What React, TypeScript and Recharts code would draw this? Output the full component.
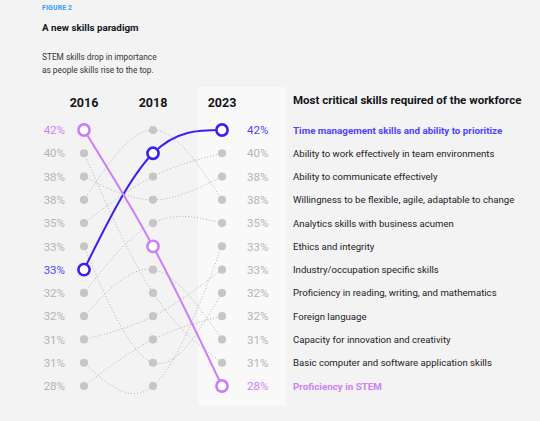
import React from 'react';
import { LineChart, Line, XAxis, YAxis } from 'recharts';

// Column labels
const years = ['2016', '2018', '2023'];
// Percent shown for each rank position (same in every column)
const rankPercents = ['42%', '40%', '38%', '38%', '35%', '33%', '33%', '32%', '32%', '31%', '31%', '28%'];
// Skills in 2023 order
const skills = [
  'Time management skills and ability to prioritize',
  'Ability to work effectively in team environments',
  'Ability to communicate effectively',
  'Willingness to be flexible, agile, adaptable to change',
  'Analytics skills with business acumen',
  'Ethics and integrity',
  'Industry/occupation specific skills',
  'Proficiency in reading, writing, and mathematics',
  'Foreign language',
  'Capacity for innovation and creativity',
  'Basic computer and software application skills',
  'Proficiency in STEM',
];
const rank2016 = [7, 5, 3, 4, 8, 11, 10, 6, 12, 9, 2, 1];
const rank2018 = [2, 3, 4, 1, 5, 12, 9, 11, 10, 7, 8, 6];
const rank2023 = [1, 2, 3, 4, 5, 6, 7, 8, 9, 10, 11, 12];
const highlight: Record<number, string> = { 0: '#3b1ff2', 11: '#cc7ef8' };
const highlightText: Record<number, string> = { 0: '#4b44ff', 11: '#d07ff8' };

const rankColumns = [rank2016, rank2018, rank2023];
const data = years.map((y, i) => {
  const row: Record<string, number | string> = { x: i, year: y };
  skills.forEach((_, s) => {
    row['s' + s] = rankColumns[i][s];
  });
  return row;
});

const ranks = rankPercents.map((_, i) => i + 1);
const FONT = 'Roboto, "Noto Sans", sans-serif';
const GRAY_TEXT = '#b4b4b4';

const colorFor = (col: number[], rank: number) => {
  const s = col.indexOf(rank);
  return highlightText[s] || GRAY_TEXT;
};

const LeftTick = (props: any) => {
  const { x, y, payload } = props;
  const r = payload.value as number;
  return (
    <text x={x} y={y} dy="0.36em" textAnchor="end" fontFamily={FONT} fontSize={11.5} fill={colorFor(rank2016, r)}>
      {rankPercents[r - 1]}
    </text>
  );
};

const RightTick = (props: any) => {
  const { x, y, payload } = props;
  const r = payload.value as number;
  const s = rank2023.indexOf(r);
  const hl = highlightText[s];
  return (
    <g>
      <text x={x} y={y} dy="0.36em" textAnchor="start" fontFamily={FONT} fontSize={11.5} fill={colorFor(rank2023, r)}>
        {rankPercents[r - 1]}
      </text>
      <text
        x={x + 46}
        y={y}
        dy="0.36em"
        textAnchor="start"
        fontFamily={FONT}
        fontSize={hl ? 9.8 : 9.6}
        fontWeight={hl ? 700 : 400}
        fill={hl || '#222226'}
      >
        {skills[s]}
      </text>
    </g>
  );
};

const YearTick = (props: any) => {
  const { x, y, payload } = props;
  return (
    <text x={x} y={y} textAnchor="middle" fontFamily={FONT} fontSize={12.5} fontWeight={700} fill="#141414">
      {years[payload.value]}
    </text>
  );
};

export default function App() {
  const order = skills.map((_, i) => i).filter((i) => !(i in highlight)).concat([0, 11]);
  return (
    <div
      style={{
        position: 'absolute',
        left: 0,
        top: 0,
        width: 540,
        height: 421,
        background: '#f3f3f3',
        overflow: 'hidden',
        fontFamily: FONT,
      }}
    >
      <div style={{ position: 'absolute', left: 198, top: 87, width: 88, height: 319, background: '#f9f9f9' }} />
      <div style={{ position: 'absolute', left: 42, top: 4, fontSize: 6.8, fontWeight: 700, color: '#2f9ef5', letterSpacing: 0.2 }}>
        FIGURE 2
      </div>
      <div style={{ position: 'absolute', left: 42, top: 22, fontSize: 9.8, fontWeight: 700, color: '#16161e' }}>
        A new skills paradigm
      </div>
      <div style={{ position: 'absolute', left: 42, top: 51, fontSize: 8.3, lineHeight: '12.5px', color: '#33333a' }}>
        STEM skills drop in importance
        <br />
        as people skills rise to the top.
      </div>
      <div style={{ position: 'absolute', left: 293, top: 93, fontSize: 11.5, fontWeight: 700, color: '#141418' }}>
        Most critical skills required of the workforce
      </div>
      <div style={{ position: 'absolute', left: 0, top: 0 }}>
        <LineChart width={540} height={421} data={data} margin={{ top: 90, right: 0, left: 30, bottom: 35 }}>
          <XAxis
            dataKey="x"
            type="number"
            domain={[0, 2]}
            ticks={[0, 1, 2]}
            orientation="top"
            height={40}
            axisLine={false}
            tickLine={false}
            tickSize={0}
            tickMargin={23}
            interval={0}
            tick={YearTick}
          />
          <YAxis
            yAxisId="left"
            type="number"
            domain={[1, 12]}
            reversed
            ticks={ranks}
            interval={0}
            width={54}
            axisLine={false}
            tickLine={false}
            tickSize={0}
            tickMargin={19}
            tick={LeftTick}
          />
          <YAxis
            yAxisId="right"
            orientation="right"
            type="number"
            domain={[1, 12]}
            reversed
            ticks={ranks}
            interval={0}
            width={318}
            axisLine={false}
            tickLine={false}
            tickSize={0}
            tickMargin={25}
            tick={RightTick}
          />
          {order.map((s) => {
            const hl = highlight[s];
            return (
              <Line
                key={s}
                yAxisId={hl ? 'right' : 'left'}
                dataKey={'s' + s}
                type="natural"
                stroke={hl || '#aaaaaa'}
                strokeWidth={hl ? 2 : 0.9}
                strokeDasharray={hl ? undefined : '1 2'}
                isAnimationActive={false}
                dot={(p: any) =>
                  hl ? (
                    <circle key={p.index} cx={p.cx} cy={p.cy} r={5.6} fill="#ffffff" stroke={hl} strokeWidth={2.6} />
                  ) : (
                    <circle key={p.index} cx={p.cx} cy={p.cy} r={4.1} fill="#c6c6c6" />
                  )
                }
                activeDot={false}
              />
            );
          })}
        </LineChart>
      </div>
    </div>
  );
}
